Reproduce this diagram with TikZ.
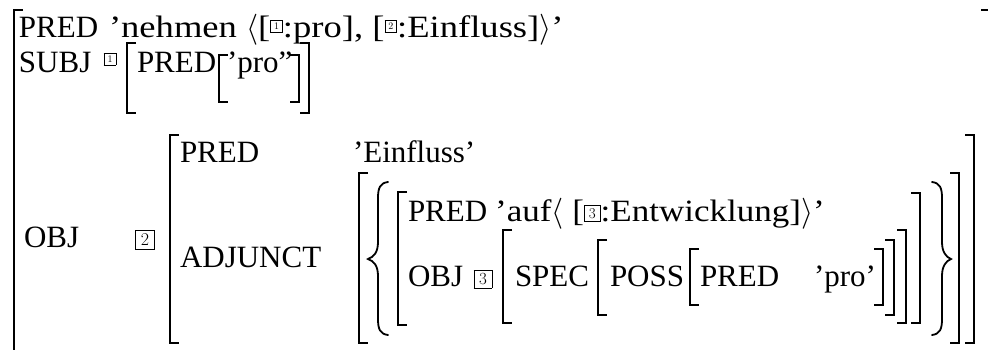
\RequirePackage{fix-cm}
\documentclass[tikz,border=0pt]{standalone}
\usepackage{fontspec}
\setmainfont{Liberation Serif}
\newfontfamily\widefont{Liberation Serif}[Ligatures=TeX, FakeStretch=1.13]
\newfontfamily\widerfont{Liberation Serif}[Ligatures=TeX, FakeStretch=1.18]
\newfontfamily\lmfont{Latin Modern Roman}

% boxed index: #1 raise (pt), #2 side (pt), #3 digit size (pt), #4 digit
\newcommand\tagno[4]{\raisebox{#1pt}{\setlength\fboxsep{0pt}\setlength\fboxrule{0.8pt}%
  \fbox{\vbox to #2pt{\vss\hbox to #2pt{\hss\fontsize{#3}{#3}\lmfont #4\hss}\vss}}}}

% square brackets: x, top, bottom
\newcommand\lbrk[3]{\draw[brk] (#1+9,#2) -- (#1,#2) -- (#1,#3) -- (#1+9,#3);}
\newcommand\rbrk[3]{\draw[brk] (#1-9,#2) -- (#1,#2) -- (#1,#3) -- (#1-9,#3);}

\begin{document}
\begin{tikzpicture}[x=1pt,y=-1pt,
  every node/.style={inner sep=0pt, outer sep=0pt, anchor=base west,
    font=\fontsize{31}{37}\selectfont},
  val/.style={font=\fontsize{31}{37}\widefont},
  topval/.style={font=\fontsize{31}{37}\widerfont},
  brk/.style={line width=1.3pt},
  brc/.style={line width=1.8pt, line cap=round}]
\useasboundingbox (0,0) rectangle (988,349);
\clip (0,0) rectangle (988,349);

% outermost matrix
\lbrk{14}{10}{360}
\rbrk{990}{10}{360}

% PRED
\node (a1) at (19,37) {PRED};
\node[topval] (v1) at (109,37) {'nehmen $\langle$[\tagno{5}{11}{10}{1}:pro], [\tagno{5}{11}{10}{2}:Einfluss]$\rangle$'};

% SUBJ
\node (a2) at (19,72) {SUBJ};
\node[anchor=center] (t1) at (110,59) {\tagno{0}{11}{10}{1}};
\lbrk{127}{43}{113}
\node (a21) at (137,72) {PRED};
\lbrk{219}{55}{102}
\node (v21) at (227,72) {'pro''};
\rbrk{299}{55}{102}
\rbrk{309}{43}{113}

% OBJ
\node (a3) at (24,247) {OBJ};
\node[anchor=center] (t2) at (145,240) {\tagno{0}{18}{18}{2}};
\lbrk{170}{135}{343}
\rbrk{974}{135}{343}
\node (a31) at (180,162) {PRED};
\node (v31) at (353,162) {'Einfluss'};
\node (a32) at (180,267) {ADJUNCT};
\lbrk{359}{173}{343}
\rbrk{959}{173}{343}

% set braces
\draw[brc] (388,182) .. controls (380,183) and (378,188) .. (378,198) -- (378,242)
  .. controls (378,252) and (374,257) .. (368,259)
  .. controls (374,261) and (378,266) .. (378,276) -- (378,319)
  .. controls (378,329) and (380,334) .. (388,335);
\draw[brc] (932,182) .. controls (940,183) and (942,188) .. (942,198) -- (942,242)
  .. controls (942,252) and (946,257) .. (951,259)
  .. controls (946,261) and (942,266) .. (942,276) -- (942,319)
  .. controls (942,329) and (940,334) .. (932,335);

% adjunct member
\lbrk{398}{192}{325}
\rbrk{920}{193}{323}
\node (a4) at (408,221) {PRED};
\node[val] (v4) at ([xshift=8pt]a4.base east) {'auf$\langle$ [\tagno{0}{15}{15}{3}:Entwicklung]$\rangle$'};
\node (a5) at (408,286) {OBJ};
\node[anchor=center] (t3) at (483,279) {\tagno{0}{17}{17}{3}};
\lbrk{503}{230}{323}
\node (a51) at (515,286) {SPEC};
\lbrk{598}{240}{315}
\node (a52) at (610,286) {POSS};
\lbrk{690}{249}{305}
\node (a53) at (700,286) {PRED};
\node (v53) at (814,286) {'pro'};
\rbrk{883}{249}{305}
\rbrk{894}{240}{315}
\rbrk{906}{230}{323}
\end{tikzpicture}
\end{document}
